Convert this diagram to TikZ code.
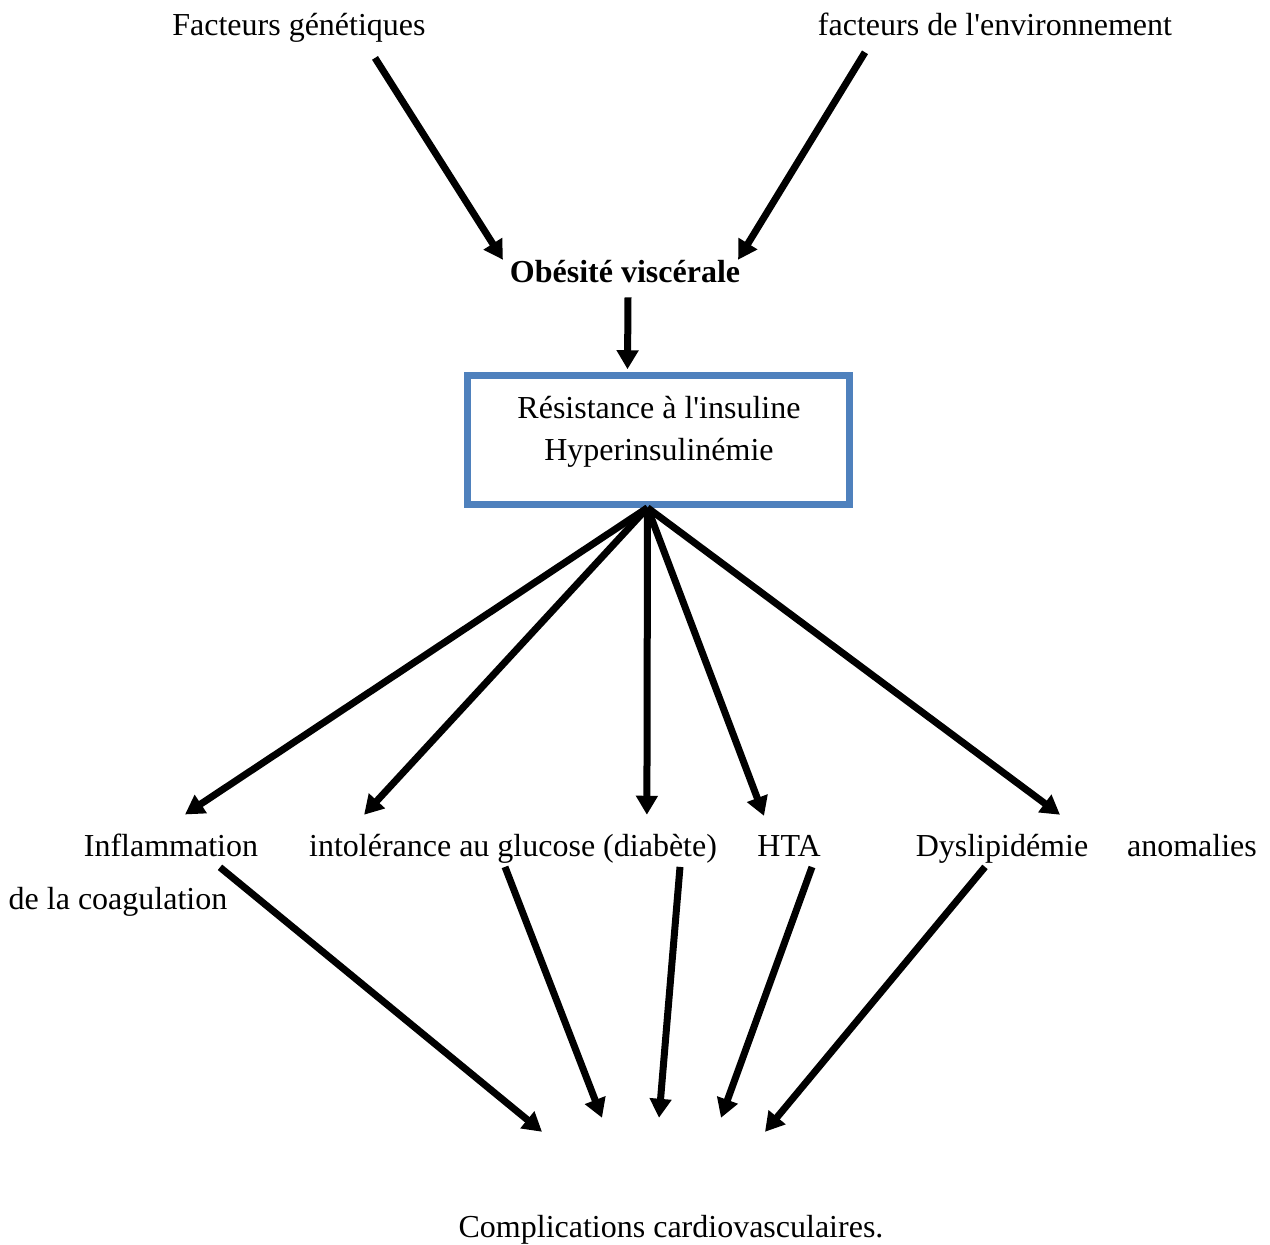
\documentclass[tikz,border=0pt]{standalone}
\usepackage{fontspec}
\setmainfont{Liberation Serif}[Ligatures=TeXOff]
\usetikzlibrary{arrows.meta}
\definecolor{boxblue}{RGB}{79,129,189}
\tikzset{
	lbl/.style={inner sep=0,outer sep=0,anchor=base},
	flow/.style={line width=7pt,-{Triangle[length=19pt,width=21pt]}},
	resbox/.style={draw=boxblue,line width=6.5pt,line join=miter,minimum width=382pt,minimum height=129pt,inner sep=0}
}
\begin{document}
\begin{tikzpicture}[x=1pt,y=-1pt,font=\fontsize{32}{42}\selectfont, line join=round, >=stealth]
		\useasboundingbox (0,0) rectangle (1270,1245);
		\path(299,35)node[lbl](fg){Facteurs génétiques}
		(995,35)node[lbl](fe){facteurs de l'environnement}
		(625,282)node[lbl,font=\fontsize{32}{42}\selectfont\bfseries](ob){Obésité viscérale}
		;
		\path(658.5,440)node[resbox](res){}
		(659,460)node[lbl,align=center](rest){Résistance à l'insuline\\Hyperinsulinémie}
		;
		\path
		(171,856)node[lbl](inf){Inflammation}
		(513,856)node[lbl](glu){intolérance au glucose (diabète)}
		(789,856)node[lbl](hta){HTA}
		(1002,856)node[lbl](dys){Dyslipidémie}
		(1192,856)node[lbl](ano){anomalies}
		(118,909)node[lbl](coag){de la coagulation}
		(671,1237)node[lbl](cv){Complications cardiovasculaires.}
		;
		\draw[flow]([shift={(76,16)}]fg.south)--([shift={(-7,0)}]ob.north west);
		\draw[flow]([shift={(-130,17)}]fe.south)--([shift={(-2,0)}]ob.north east);
		\draw[flow]([shift={(3,15)}]ob.south)--([shift={(-31,-3)}]res.north);
		\draw[flow]([xshift=-11pt]res.south)--([shift={(14,-19)}]inf.north);
		\draw[flow]([xshift=-11pt]res.south)--([shift={(55,-19)}]glu.north west);
		\draw[flow]([xshift=-11pt]res.south)--([shift={(-70,-19)}]glu.north east);
		\draw[flow]([xshift=-11pt]res.south)--([shift={(-25,-19)}]hta.north);
		\draw[flow]([xshift=-11pt]res.south)--([shift={(58,-19)}]dys.north);
		\draw[flow]([shift={(49,11)}]inf.south)--([shift={(-129,-83)}]cv.north);
		\draw[flow]([shift={(-8,4)}]glu.south)--([shift={(-69,-97)}]cv.north);
		\draw[flow]([shift={(167,4)}]glu.south)--([shift={(-12,-97)}]cv.north);
		\draw[flow]([shift={(23,11)}]hta.south)--([shift={(50,-97)}]cv.north);
		\draw[flow]([shift={(-17,4)}]dys.south)--([shift={(94,-83)}]cv.north);
\end{tikzpicture}
\end{document}
